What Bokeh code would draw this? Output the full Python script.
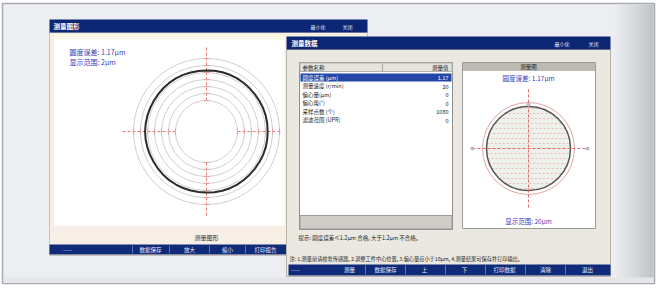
import numpy as np
from bokeh.plotting import figure
from bokeh.models import Range1d
from bokeh.core.properties import value
from bokeh.embed import file_html
from bokeh.resources import INLINE

FONT = value("Noto Sans CJK SC")

# ---------------- data ----------------
left_title = "测量图形"
right_title = "测量数据"
left_info = ["圆度误差: 1.17μm", "显示范围: 2μm"]
left_caption = "测量图形"
# roundness profile (μm, relative to grid level 0), 48 samples around the part
profile_um = [1.31, 1.32, 1.33, 1.32, 1.30, 1.29, 1.30, 1.31, 1.33, 1.34, 1.33, 1.31,
              1.30, 1.29, 1.30, 1.32, 1.33, 1.32, 1.31, 1.29, 1.28, 1.29, 1.31, 1.33,
              1.35, 1.34, 1.32, 1.30, 1.29, 1.30, 1.32, 1.33, 1.32, 1.31, 1.30, 1.28,
              1.29, 1.31, 1.33, 1.34, 1.33, 1.31, 1.29, 1.29, 1.30, 1.32, 1.33, 1.32]
grid_levels_um = [-3, -2, -1, 0, 1, 2, 3]
table_header = ["参数名称", "测量值"]
param_names = ["圆度误差 (μm)", "测量速度 (r/min)", "偏心量(μm)", "偏心角(°)", "采样点数 (个)", "滤波范围 (UPR)"]
param_values = ["1.17", "20", "0", "0", "1080", "0"]
right_graph_title = "测量图"
right_info_top = "圆度误差: 1.17μm"
right_info_bottom = "显示范围: 20μm"
hint_text = "提示: 圆度误差≤1.2μm 合格, 大于1.2μm 不合格。"
note_text = "注: 1.测量前请校准传感器, 2.调整工件中心位置, 3.偏心量应小于10μm, 4.测量结果可保存并打印输出。"
left_buttons = ["——", "数据保存", "放大", "缩小", "打印报告"]
right_buttons = ["——", "测量", "数据保存", "上", "下", "打印数据", "清除", "退出"]

# ---------------- figure ----------------
p = figure(width=656, height=289, x_range=Range1d(8, 664), y_range=Range1d(297, 8),
           output_backend="svg", toolbar_location=None, min_border=0)
p.axis.visible = False
p.grid.visible = False
p.outline_line_color = None
p.background_fill_color = "white"
p.border_fill_color = "white"

def box(l, r, t, b, fill, line=None, lw=1):
    p.quad(left=l, right=r, top=t, bottom=b, fill_color=fill,
           line_color=line, line_width=lw)

def txt(x, y, s, size="7px", color="#222222", align="left", bold=False):
    p.text(x=[x], y=[y], text=[s], text_font=FONT, text_font_size=size,
           text_color=color, text_align=align, text_baseline="middle",
           text_font_style="bold" if bold else "normal")

# outer panel with soft gradient on the right
box(10, 662, 11, 291, "#eceef1", "#a7abb0", 1.5)
shade = ["#ebedf0", "#e8eaed", "#e5e7ea", "#e2e4e7", "#dee1e4", "#dadde0",
         "#d6d9dc", "#d2d5d8", "#ced1d4", "#cacdd0", "#c6c9cc", "#c2c5c8"]
for i, c in enumerate(shade):
    box(620 + i * 3.4, 623.6 + i * 3.4, 12, 290, c)
box(11, 661, 285, 290.5, "#e4e6e9")

# ---------------- left window ----------------
box(57, 375, 40, 263, "#f7efe6", "#c9c2b8")
box(57, 375, 27, 40, "#0d2674")
txt(61, 33.5, left_title, "6.5px", "white", bold=True)
txt(318, 33.5, "最小化", "5px", "#dfe6ff")
txt(350, 33.5, "关闭", "5px", "#dfe6ff")
box(62, 292, 42, 47, "#fbf9e6")
box(62, 292, 47, 233, "#ffffff")

cxL, cyL = 214, 139
ring_px0, px_per_um = 52, 7
ring_r = [ring_px0 + g * px_per_um for g in grid_levels_um]
p.circle(x=[cxL] * len(ring_r), y=[cyL] * len(ring_r), radius=ring_r,
         fill_color=None, line_color="#cfcfcf", line_width=1)
# red dashed crosshair (gap in centre)
rin, rout = ring_r[0], 84
p.segment(x0=[cxL, cxL, cxL - rout, cxL + rin], y0=[cyL - rout, cyL + rin, cyL, cyL],
          x1=[cxL, cxL, cxL - rin, 290], y1=[cyL - rin, cyL + rout, cyL, cyL],
          line_color="#e27a7a", line_width=1, line_dash="3 2")
tk = [r for r in ring_r]
p.segment(x0=[cxL - 3] * len(tk) * 2, y0=[cyL - r for r in tk] + [cyL + r for r in tk],
          x1=[cxL + 3] * len(tk) * 2, y1=[cyL - r for r in tk] + [cyL + r for r in tk],
          line_color="#e9a0a0", line_width=1)
p.segment(x0=[cxL - r for r in tk] + [cxL + r for r in tk], y0=[cyL - 3] * len(tk) * 2,
          x1=[cxL - r for r in tk] + [cxL + r for r in tk], y1=[cyL + 3] * len(tk) * 2,
          line_color="#e9a0a0", line_width=1)
# profile
ang = np.arange(len(profile_um) + 1) * 2 * np.pi / len(profile_um)
prof = np.array(profile_um + profile_um[:1])
rp = ring_px0 + prof * px_per_um
p.line(cxL + rp * np.cos(ang), cyL - rp * np.sin(ang), line_color="#2b2b2b", line_width=2)

txt(77, 59, left_info[0], "7px", "#3b3bb5")
txt(77, 69, left_info[1], "7px", "#3b3bb5")
txt(214, 245, left_caption, "6px", "#333333", "center")

# left bottom bar
box(57, 294, 252, 262, "#0f2a78")
lsep = [140, 177, 217, 253]
p.segment(x0=lsep, y0=[253] * 4, x1=lsep, y1=[261] * 4, line_color="#5d74b8", line_width=1)
lpos = [75, 158, 197, 235, 273]
for x, s in zip(lpos, left_buttons):
    txt(x, 257, s, "5.5px", "#e8ecff", "center")

# ---------------- right window ----------------
box(294, 618, 57, 284, "#ebe8e1", "#b7b2a8")
box(294, 618, 44, 57, "#0d2674")
txt(299, 50.5, right_title, "6.5px", "white", bold=True)
txt(562, 50.5, "最小化", "5px", "#dfe6ff")
txt(596, 50.5, "关闭", "5px", "#dfe6ff")

# list box
box(307, 460, 70, 237, "#ffffff", "#8f8f8f")
box(307.5, 459.5, 70.5, 79, "#e6e3dc", "#b5b5b5")
p.segment(x0=[390], y0=[71], x1=[390], y1=[79], line_color="#a5a5a5")
txt(310, 75, table_header[0], "5.5px", "#222222")
txt(456, 75, table_header[1], "5.5px", "#222222", "right")
row_y = [85, 93.5, 102, 110.5, 119, 127.5]
box(308, 459, 81, 89, "#2346a8")
for i, (n, v) in enumerate(zip(param_names, param_values)):
    col = "white" if i == 0 else "#222222"
    txt(310, row_y[i], n, "5.5px", col)
    txt(456, row_y[i], v, "5.5px", col, "right")
box(307.5, 459.5, 223, 236.5, "#cfcdc8", "#9a9a9a")

# graph panel
box(470, 603, 70, 236, "#ffffff", "#9a9a9a")
box(470.5, 602.5, 70.5, 78.5, "#bdbab4")
txt(536, 74.5, right_graph_title, "5.5px", "#222222", "center")
txt(536, 85, right_info_top, "6.5px", "#3b3bb5", "center")
txt(536, 228, right_info_bottom, "6.5px", "#3b3bb5", "center")

cxR, cyR, rR = 536, 156, 42
p.circle(x=[cxR], y=[cyR], radius=[rR], fill_color="#eef0ea", line_color=None)
chord = np.arange(-40, 41, 5)
half = np.sqrt(np.clip(rR ** 2 - chord ** 2, 0, None))
p.segment(x0=cxR - half, y0=cyR + chord, x1=cxR + half, y1=cyR + chord,
          line_color="#eab0b0", line_width=0.8, line_dash="2 2")
p.circle(x=[cxR], y=[cyR], radius=[rR + 4], fill_color=None, line_color="#e3a3a3", line_width=1)
p.circle(x=[cxR], y=[cyR], radius=[rR], fill_color=None, line_color="#555555", line_width=1.5)
p.segment(x0=[cxR, 480], y0=[97, cyR], x1=[cxR, 595], y1=[217, cyR],
          line_color="#e06a6a", line_width=1, line_dash="3 2")
p.scatter(x=[480, 595, cxR], y=[cyR, cyR, 112], size=4, fill_color="#bdbdbd", line_color=None)

txt(306, 245, hint_text, "5.5px", "#222222")
txt(297, 266, note_text, "5.2px", "#222222")

# right bottom bar
box(296, 618, 272, 283, "#0f2a78")
rsep = [373, 413, 453, 493, 533, 573]
p.segment(x0=rsep, y0=[273] * 6, x1=rsep, y1=[282] * 6, line_color="#5d74b8", line_width=1)
for x, s in zip([303, 357, 393, 432, 472, 512, 553, 595], right_buttons):
    txt(x, 277.5, s, "5.5px", "#e8ecff", "center")

open("out.html", "w").write(file_html(p, INLINE))
